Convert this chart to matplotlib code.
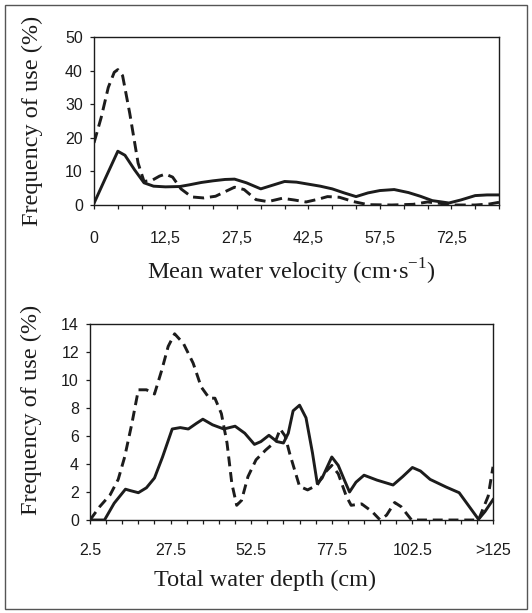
import matplotlib
matplotlib.use("Agg")
import matplotlib.pyplot as plt
from matplotlib.patches import Rectangle

# --- data (x = category position, y = % use) ---
# top panel: mean water velocity categories
vel_labels = ["0", "", "", "12,5", "", "", "27,5", "", "", "42,5",
              "", "", "57,5", "", "", "72,5", "", ""]

vel_solid_x = [0, 0.5, 1.0, 1.3, 1.7, 2.1, 2.5, 3.0, 3.6, 4.0, 4.5, 5.0, 5.5,
               5.9, 6.4, 7.0, 7.5, 8.0, 8.5, 9.0, 9.5, 10.0, 10.5, 11.0, 11.5,
               12.0, 12.6, 13.2, 13.7, 14.2, 14.9, 15.4, 16.0, 16.5, 17.0]
vel_solid_y = [0.5, 8.3, 16.0, 14.8, 10.5, 6.6, 5.6, 5.4, 5.5, 6.0, 6.7, 7.2,
               7.6, 7.7, 6.6, 4.8, 5.9, 7.0, 6.8, 6.2, 5.6, 4.8, 3.6, 2.5, 3.6,
               4.3, 4.6, 3.7, 2.6, 1.3, 0.6, 1.5, 2.8, 3.0, 3.0]

vel_dash_x = [0, 0.3, 0.6, 0.85, 1.0, 1.2, 1.5, 1.85, 2.1, 2.45, 2.75, 3.0,
              3.3, 3.65, 4.1, 4.6, 5.1, 5.6, 5.9, 6.3, 6.8, 7.3, 7.9, 8.4,
              8.9, 9.4, 9.8, 10.3, 10.9, 11.5, 12.5, 13.4, 14.0, 14.5, 15.1,
              16.0, 16.6, 17.0]
vel_dash_y = [18.5, 26, 35, 39.5, 40.3, 38.5, 27.3, 12.5, 7.0, 7.4, 8.6, 9.2,
              8.3, 4.8, 2.4, 2.1, 2.6, 4.3, 5.3, 4.6, 1.6, 1.0, 2.0, 1.5, 0.9,
              1.7, 2.5, 2.3, 1.0, 0.1, 0.0, 0.2, 0.9, 0.5, 0.0, 0.0, 0.3, 0.8]

# bottom panel: total water depth categories
depth_labels = ["2.5", "", "", "", "", "27.5", "", "", "", "", "52.5", "", "",
                "", "", "77.5", "", "", "", "", "102.5", "", "", "", "", ">125"]

depth_solid_x = [0, 0.9, 1.5, 2.2, 2.5, 3.0, 3.5, 4.0, 4.5, 5.1, 5.6, 6.1, 6.6,
                 7.0, 7.6, 8.3, 9.0, 9.6, 10.2, 10.6, 11.1, 11.6, 12.0, 12.3,
                 12.6, 13.0, 13.4, 13.8, 14.1, 14.4, 15.0, 15.4, 15.8, 16.1,
                 16.5, 17.0, 17.8, 18.8, 19.4, 20.0, 20.5, 21.1, 22.1, 22.9,
                 23.5, 24.1, 24.5, 25.0]
depth_solid_y = [0.0, 0.0, 1.2, 2.2, 2.1, 1.95, 2.3, 3.0, 4.5, 6.5, 6.6, 6.5,
                 6.9, 7.2, 6.8, 6.5, 6.7, 6.2, 5.4, 5.6, 6.05, 5.6, 5.5, 6.2,
                 7.8, 8.2, 7.3, 4.8, 2.6, 3.0, 4.5, 3.9, 2.8, 2.0, 2.7, 3.2,
                 2.85, 2.5, 3.1, 3.75, 3.5, 2.9, 2.35, 1.95, 1.0, 0.05, 0.6, 1.45]

depth_dash_x = [0, 0.6, 1.25, 1.75, 2.15, 2.6, 3.0, 3.5, 4.0, 4.45, 4.85, 5.25,
                5.8, 6.4, 6.9, 7.4, 7.75, 8.15, 8.5, 8.8, 9.1, 9.4, 9.8, 10.3,
                10.9, 11.5, 11.8, 12.1, 12.4, 13.0, 13.5, 14.1, 14.5, 15.0,
                15.4, 15.9, 16.2, 16.85, 17.5, 18.0, 18.4, 18.9, 19.3, 19.95,
                24.1, 24.7, 25.0]
depth_dash_y = [0.0, 0.95, 1.8, 2.9, 4.5, 6.9, 9.3, 9.3, 9.0, 10.7, 12.4, 13.3,
                12.6, 11.2, 9.5, 8.7, 8.7, 7.6, 5.5, 2.6, 1.05, 1.4, 3.1, 4.3,
                5.0, 5.6, 6.5, 6.0, 4.7, 2.4, 2.15, 2.5, 3.3, 3.9, 3.3, 1.7,
                1.05, 1.15, 0.6, 0.0, 0.35, 1.25, 0.95, 0.0, 0.0, 1.7, 3.8]

ink = "#1c1c1c"
tick_font = "Liberation Sans"
label_font = "Liberation Serif"
plt.rcParams["mathtext.fontset"] = "custom"
plt.rcParams["mathtext.rm"] = label_font

fig = plt.figure(figsize=(5.32, 6.13), dpi=100)
fig.patches.append(Rectangle((5 / 532, 1 - 609 / 613), 522 / 532, 604 / 613,
                             transform=fig.transFigure, fill=False,
                             edgecolor="#555555", linewidth=1.0))

ax1 = fig.add_axes([94 / 532, 1 - 205 / 613, 405 / 532, 168 / 613])
ax2 = fig.add_axes([90 / 532, 1 - 520 / 613, 403 / 532, 196 / 613])


def style(ax, labels, ymax, ystep, xlabel, xpad, xlab_pos, ylab_pos):
    ax.set_xlim(0, len(labels) - 1)
    ax.set_ylim(0, ymax)
    ax.set_xticks(range(len(labels)))
    ax.set_xticklabels(labels, fontfamily=tick_font, fontsize=11.5, color=ink)
    ax.set_yticks(range(0, ymax + 1, ystep))
    ax.set_yticklabels([str(v) for v in range(0, ymax + 1, ystep)],
                       fontfamily=tick_font, fontsize=11.5, color=ink)
    ax.tick_params(direction="out", length=3, width=0.9, color=ink)
    ax.tick_params(axis="x", pad=xpad)
    ax.tick_params(axis="y", pad=5)
    for s in ax.spines.values():
        s.set_linewidth(1.0)
        s.set_color(ink)
    ax.set_xlabel(xlabel, fontfamily=label_font, fontsize=17.5, color=ink)
    ax.xaxis.set_label_coords(*xlab_pos)
    ax.xaxis.label.set_verticalalignment("center")
    ax.set_ylabel("Frequency of use (%)", fontfamily=label_font, fontsize=17.5,
                  color=ink)
    ax.yaxis.set_label_coords(*ylab_pos)
    ax.yaxis.label.set_verticalalignment("center")


ax1.plot(vel_solid_x, vel_solid_y, color=ink, lw=2.1, solid_joinstyle="round")
ax1.plot(vel_dash_x, vel_dash_y, color=ink, lw=2.1, dashes=(3.8, 2.0))
style(ax1, vel_labels, 50, 10,
      "Mean water velocity (cm·s$^{\\mathregular{-1}}$)",
      16, (0.486, -0.40), (-0.153, 0.5))

ax2.plot(depth_solid_x, depth_solid_y, color=ink, lw=2.1, solid_joinstyle="round")
ax2.plot(depth_dash_x, depth_dash_y, color=ink, lw=2.1, dashes=(3.4, 2.0))
style(ax2, depth_labels, 14, 2, "Total water depth (cm)",
      13.5, (0.434, -0.306), (-0.146, 0.56))

fig.savefig("out.png", dpi=100)
